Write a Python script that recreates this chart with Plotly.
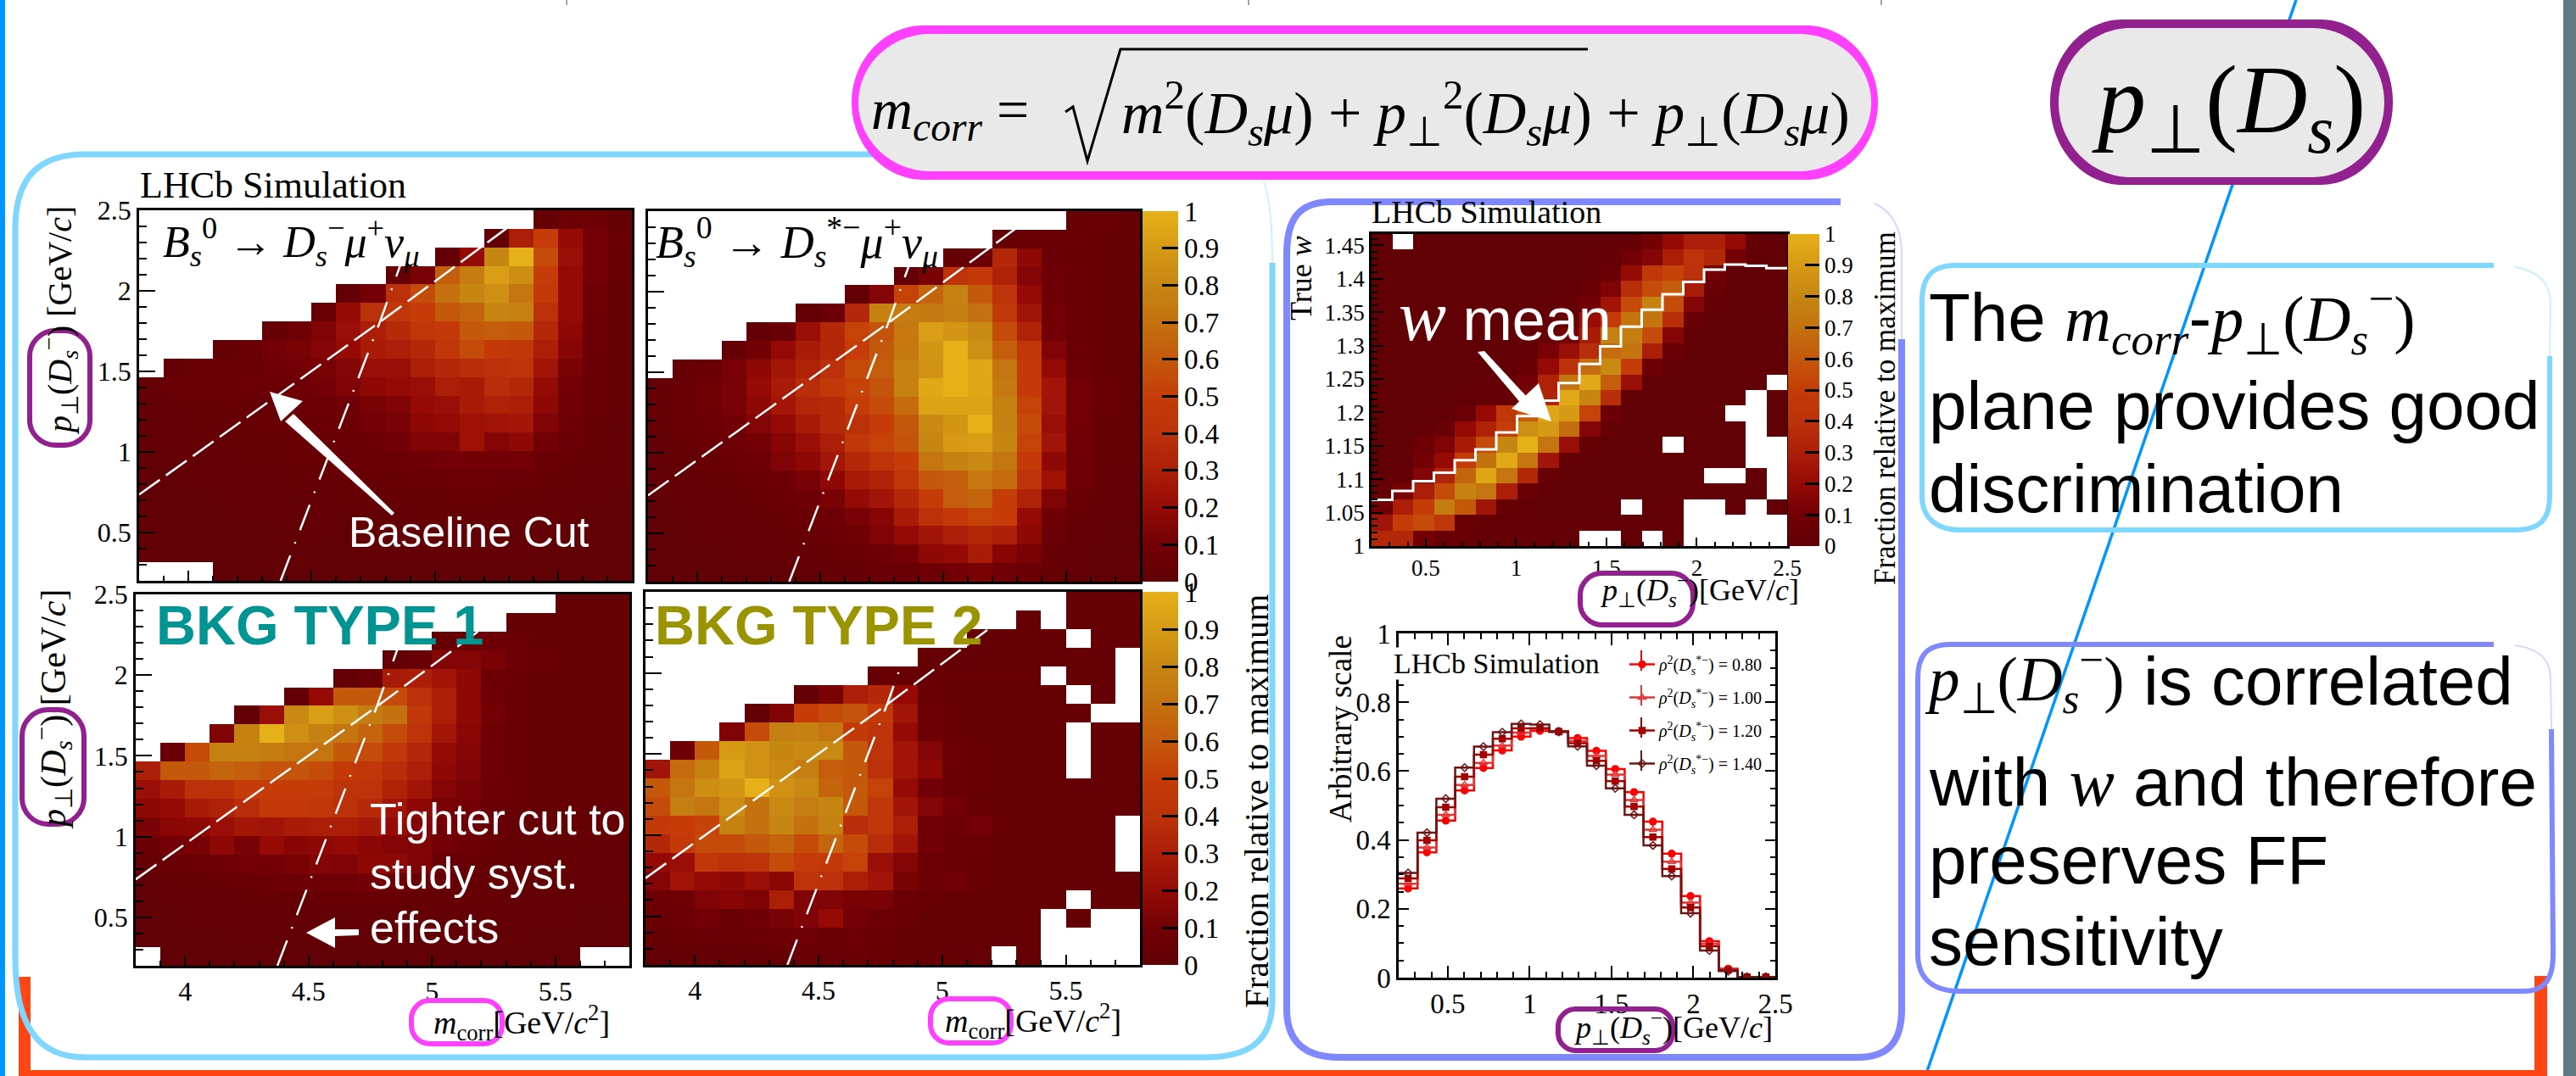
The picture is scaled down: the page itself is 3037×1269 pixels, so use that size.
import plotly.graph_objects as go

W, H = 3037, 1269
_ = None
SERIF = "Liberation Serif"
SANS = "Liberation Sans"

# ---------- data ----------
m_edges_start, m_bin = 3.8, 0.1
pt_edges_start, pt_bin = 0.2, 0.115
p_edges_start, p_bin = 0.2, 0.115
w_start, w_bin = 1.0, 0.02335

panel1 = [
 [_]*16+[.03,.08,.08,.03],
 [_]*14+[.03,.3,.5,.2,.1,.05],
 [_]*12+[.02,.2,.8,1.0,.55,.22,.1,.04],
 [_]*10+[.03,.12,.62,.75,.92,.84,.5,.2,.1,.04],
 [_]*8+[.02,.1,.4,.55,.7,.8,.85,.72,.48,.2,.08,.03],
 [_]*7+[.05,.2,.4,.45,.5,.6,.65,.8,.78,.4,.2,.08,.03],
 [_]*5+[.03,.08,.14,.22,.3,.36,.45,.48,.6,.62,.6,.35,.18,.06,.03],
 [_]*3+[.03,.05,.1,.12,.15,.2,.28,.3,.35,.45,.55,.48,.45,.3,.16,.06,.03],
 [_]+[.03,.05,.05,.05,.08,.1,.12,.15,.22,.22,.3,.35,.38,.4,.42,.25,.12,.05,.03],
 [.03,.05,.05,.05,.06,.06,.08,.1,.14,.18,.2,.22,.3,.28,.38,.35,.2,.1,.05,.03],
 [.02,.03,.03,.04,.04,.05,.06,.07,.09,.12,.14,.2,.22,.28,.32,.3,.18,.1,.05,.03],
 [.02,.02,.03,.03,.04,.04,.05,.06,.07,.1,.12,.18,.2,.24,.25,.26,.14,.08,.04,.02],
 [.02,.02,.02,.03,.03,.03,.04,.05,.05,.07,.09,.14,.14,.24,.15,.18,.1,.06,.03,.02],
 [.01,.02,.02,.02,.03,.03,.04,.04,.05,.05,.06,.08,.1,.1,.1,.1,.06,.04,.03,.02],
 [.01,.01,.02,.02,.02,.02,.03,.03,.03,.04,.04,.05,.06,.06,.06,.05,.04,.03,.02,.02],
 [.01,.01,.01,.02,.02,.02,.02,.02,.03,.03,.03,.03,.04,.04,.04,.03,.03,.02,.02,.01],
 [.01,.01,.01,.01,.02,.02,.02,.02,.02,.02,.02,.03,.03,.03,.03,.02,.02,.02,.01,.01],
 [.01,.01,.01,.01,.01,.01,.02,.02,.02,.02,.02,.02,.02,.02,.02,.02,.02,.01,.01,.01],
 [.01,.01,.01,.01,.01,.01,.01,.01,.01,.02,.02,.02,.02,.02,.02,.02,.01,.01,.01,.01],
 [_,_,_,.01,.01,.01,.01,.01,.01,.01,.01,.01,.01,.01,.01,.01,.01,.01,.01,.01],
]
panel2 = [
 [_]*17+[.04,.05,.03],
 [_]*14+[.03,.05,.05,.05,.04,.03],
 [_]*12+[.03,.06,.35,.18,.05,.04,.04,.03],
 [_]*10+[.02,.12,.42,.48,.32,.15,.08,.05,.04,.03],
 [_]*8+[.02,.15,.52,.65,.78,.6,.42,.2,.08,.05,.04,.03],
 [_]*6+[.02,.06,.35,.78,.75,.74,.76,.7,.47,.25,.1,.05,.04,.03],
 [_]*4+[.02,.05,.22,.35,.52,.58,.74,.92,.88,.82,.55,.32,.1,.05,.04,.03],
 [_]*3+[.03,.1,.2,.28,.35,.5,.6,.74,.88,1.0,.85,.62,.45,.14,.06,.04,.03],
 [_]+[.03,.05,.12,.18,.26,.32,.4,.55,.62,.78,.86,1.0,.96,.72,.48,.2,.07,.04,.03],
 [.03,.05,.08,.12,.2,.28,.38,.47,.52,.58,.78,.96,1.0,.96,.74,.48,.25,.1,.05,.03],
 [.03,.05,.08,.12,.18,.26,.34,.36,.5,.55,.68,.94,.94,.94,.78,.52,.25,.1,.05,.03],
 [.03,.05,.06,.1,.15,.2,.28,.36,.4,.5,.6,.82,.88,1.0,.78,.55,.22,.1,.04,.03],
 [.02,.04,.06,.08,.1,.16,.22,.3,.45,.52,.58,.8,.9,.92,.8,.52,.25,.09,.04,.03],
 [.02,.03,.04,.06,.08,.14,.18,.26,.35,.42,.5,.72,.78,.82,.72,.48,.18,.08,.03,.03],
 [.02,.02,.03,.04,.05,.08,.12,.18,.28,.32,.44,.6,.62,.74,.68,.42,.24,.08,.03,.02],
 [.02,.02,.02,.03,.04,.06,.08,.12,.2,.25,.35,.5,.62,.65,.5,.32,.14,.05,.03,.02],
 [.01,.02,.02,.02,.03,.04,.06,.08,.12,.16,.28,.4,.48,.52,.5,.2,.08,.03,.02,.02],
 [.01,.01,.02,.02,.02,.03,.04,.06,.08,.14,.2,.25,.3,.35,.3,.18,.06,.02,.02,.01],
 [.01,.01,.01,.02,.02,.02,.03,.04,.05,.07,.1,.18,.2,.28,.16,.12,.04,.02,.01,.01],
 [.01,.01,.01,.01,.01,.02,.02,.03,.03,.05,.05,.08,.1,.12,.08,.06,.03,.02,.01,.01],
]
panel3 = [
 [_]*17+[.03,.03,.03],
 [_]*15+[.03,.03,.03,.03,.03],
 [_]*12+[.04,.05,.08,.06,.03,.03,.03,.03],
 [_]*10+[.02,.05,.15,.15,.12,.07,.05,.03,.03,.03],
 [_]*8+[.02,.06,.28,.3,.25,.18,.07,.05,.03,.03,.03,.03],
 [_]*6+[.02,.2,.6,.6,.55,.4,.3,.18,.08,.05,.03,.03,.03,.03],
 [_]*4+[.02,.22,.82,.92,.85,.75,.7,.45,.3,.18,.1,.05,.03,.03,.03,.03],
 [_]*3+[.14,.78,1.0,.85,.78,.72,.65,.55,.42,.26,.17,.08,.05,.03,.03,.03,.03],
 [_]+[.06,.55,.78,.78,.75,.72,.72,.6,.55,.45,.35,.2,.15,.08,.05,.03,.03,.03,.03],
 [.3,.6,.6,.65,.62,.58,.58,.55,.48,.45,.38,.3,.18,.14,.08,.05,.03,.03,.03,.03],
 [.22,.28,.4,.4,.5,.5,.5,.5,.42,.42,.32,.25,.15,.12,.07,.05,.03,.03,.03,.03],
 [.18,.2,.28,.32,.38,.48,.48,.45,.4,.36,.25,.18,.12,.1,.05,.04,.03,.03,.03,.03],
 [.12,.17,.18,.22,.26,.25,.28,.3,.3,.27,.2,.15,.1,.08,.05,.03,.03,.03,.03,.03],
 [.06,.1,.12,.18,.12,.2,.16,.18,.2,.17,.15,.14,.1,.07,.04,.03,.03,.03,.03,.02],
 [.03,.05,.06,.08,.1,.1,.12,.15,.14,.18,.18,.14,.05,.04,.03,.03,.03,.03,.02,.02],
 [.02,.03,.03,.04,.05,.06,.07,.08,.08,.1,.08,.05,.04,.03,.03,.03,.02,.02,.02,.02],
 [.02,.02,.02,.02,.03,.03,.03,.04,.04,.04,.04,.03,.03,.03,.03,.02,.02,.02,.02,.02],
 [.01,.01,.02,.02,.02,.02,.02,.02,.02,.02,.02,.02,.02,.02,.02,.02,.02,.02,.01,.01],
 [.01,.01,.01,.01,.02,.02,.02,.02,.02,.02,.02,.02,.02,.02,.02,.02,.01,.01,.01,.01],
 [_,.01,.01,.01,.01,.01,.01,.01,.01,.01,.01,.01,.01,.01,.01,.01,.01,.01,_,_],
]
panel4 = [
 [_]*17+[.03,.03,.03],
 [_]*15+[.03,_,.03,.03,.03],
 [_]*13+[.03,.03,.03,.03,_,.03,.03],
 [_]*11+[.03]*8+[_],
 [_]*9+[.04]*7+[_,.03,.03,_],
 [_]*6+[.02,.12,.3,.35,.2,.05,.03,.03,.03,.03,.03]+[_,.03,_],
 [_]*4+[.02,.14,.5,.55,.58,.48,.25,.07,.04,.03,.03,.03,.03,.03]+[_,_],
 [_]*3+[.14,.55,.76,.78,.72,.48,.42,.2,.08,.04,.03,.03,.03,.03]+[_,.03,.03],
 [_]+[.08,.6,.9,.86,.8,.82,.82,.6,.42,.25,.15,.06,.04,.03,.03,.03]+[_,.03,.03],
 [.25,.68,.78,.94,.86,.82,.76,.62,.6,.4,.25,.18,.06,.04,.03,.03,.03,_,.03,.03],
 [.6,.72,.84,.88,1,.86,.82,.65,.6,.52,.2,.1,.05,.04,.03,.03,.03,.03,.03,.03],
 [.55,.76,.72,.84,.7,.82,.76,.8,.6,.45,.25,.15,.1,.04,.03,.03,.03,.03,.03,.03],
 [.48,.5,.52,.78,.7,.8,.7,.78,.38,.45,.3,.1,.07,.1,.04,.03,.03,.03,.03,_],
 [.35,.48,.55,.55,.6,.65,.55,.65,.55,.38,.25,.1,.05,.05,.03,.03,.03,.03,.03,_],
 [.2,.22,.45,.4,.42,.55,.5,.48,.52,.22,.15,.07,.05,.04,.03,.03,.03,.03,.03,_],
 [.15,.25,.2,.18,.22,.17,.42,.4,.3,.25,.12,.07,.09,.04,.03,.03,.03,.03,.03,.03],
 [.07,.08,.14,.16,.13,.3,.14,.14,.12,.12,.06,.04,.03,.03,.03,.03,.03,_,.03,.03],
 [.05,.07,.1,.05,.08,.12,.14,.2,.1,.07,.05,.03,.03,.03,.03,.03,_,.03,_,_],
 [.03,.04,.05,.05,.06,.07,.08,.05,.08,.05,.03,.03,.03,.03,.03,.03,_,_,_,_],
 [.02,.03,.03,.03,.03,.04,.05,.05,.06,.04,.04,.03,.03,.03,_,.03,_,_,_,_],
]
panel5 = [
 [.01,_,.01,.01,.01,.01,.01,.01,.01,.01,.01,.01,.03,.1,.2,.3,.3,.2,.03,.02],
 [.01,.01,.01,.01,.01,.01,.01,.01,.01,.01,.01,.03,.1,.15,.3,.42,.35,.1,.02,.01],
 [.01,.01,.01,.01,.01,.01,.01,.01,.01,.01,.02,.05,.2,.45,.52,.4,.1,.02,.01,.01],
 [.01,.01,.01,.01,.01,.01,.01,.01,.01,.02,.05,.14,.38,.55,.62,.28,.06,.01,.01,.01],
 [.01,.01,.01,.01,.01,.01,.01,.01,.02,.03,.1,.25,.55,.78,.55,.15,.03,.01,.01,.01],
 [.01,.01,.01,.01,.01,.01,.01,.01,.02,.05,.22,.5,.72,.72,.38,.05,.02,.01,.01,.01],
 [.01,.01,.01,.01,.01,.01,.01,.02,.04,.1,.28,.78,.76,.55,.15,.02,.01,.01,.01,.01],
 [.01,.01,.01,.01,.01,.01,.01,.02,.12,.22,.38,.68,.72,.3,.05,.01,.01,.01,.01,.01],
 [.01,.01,.01,.01,.01,.01,.02,.04,.2,.4,.68,.82,.5,.08,.02,.01,.01,.01,.01,.01],
 [.01,.01,.01,.01,.01,.02,.03,.1,.32,.72,.97,.62,.22,.02,.01,.01,.01,.01,.01,_],
 [.01,.01,.01,.01,.02,.03,.04,.14,.33,.97,.8,.38,.02,.01,.01,.01,.01,.01,_,.01],
 [.01,.01,.01,.02,.06,.2,.45,.62,.95,.9,.52,.07,.01,.01,.01,.01,.01,_,_,.01],
 [.01,.01,.02,.05,.2,.32,.5,.85,.9,.68,.15,.03,.01,.01,.01,.01,.01,.01,_,.01],
 [.01,.01,.08,.14,.28,.55,.8,1.0,.72,.22,.03,.01,.01,.01,_,.01,.01,.01,_,_],
 [.01,.02,.1,.2,.5,.7,.97,.72,.25,.03,.01,.01,.01,.01,.01,.01,.01,.01,_,_],
 [.01,.03,.15,.33,.65,.95,.72,.35,.04,.01,.01,.01,.01,.01,.01,.01,_,_,.02,_],
 [.03,.12,.3,.55,.78,.72,.3,.05,.02,.01,.01,.01,.01,.01,.01,.01,.01,.01,.01,_],
 [.1,.3,.5,.75,.6,.25,.03,.02,.01,.01,.01,.01,_,.01,.01,_,_,.02,_,.02],
 [.25,.5,.55,.45,.05,.03,.02,.02,.02,.02,.02,.02,.02,.02,.02,_,_,_,_,_],
 [.35,.35,.1,.05,.04,.03,.03,.03,.02,.02,_,_,.02,_,.02,_,_,_,_,_],
]
w_mean = [1.0693,1.0824,1.0972,1.1099,1.1285,1.1446,1.1699,1.1944,1.2177,1.2439,
          1.2726,1.2988,1.3284,1.3538,1.377,1.3952,1.4138,1.4214,1.4193,1.4159]

rho_080 = [.259,.364,.456,.544,.609,.66,.70,.717,.716,.696,.659,.606,.539,.453,.36,.237,.106,.026,.002,.002]
rho_100 = [.273,.378,.473,.56,.624,.674,.712,.721,.714,.687,.644,.59,.516,.43,.337,.218,.098,.024,.002,.002]
rho_120 = [.288,.399,.495,.584,.648,.694,.724,.725,.714,.681,.63,.571,.497,.408,.316,.204,.091,.022,.002,.002]
rho_140 = [.304,.421,.52,.61,.671,.713,.737,.735,.714,.672,.616,.55,.473,.384,.295,.187,.079,.019,.002,.002]

cut_dash_m = [3.8, 4.777, 5.39]
cut_dash_pt = [0.735, 1.806, 2.5]
cut_dot_m = [4.374, 4.777, 4.94]
cut_dot_pt = [0.2, 1.806, 2.5]

pt_ticks = [0.5, 1, 1.5, 2, 2.5]
pt_labels = ["0.5", "1", "1.5", "2", "2.5"]
m_ticks = [4, 4.5, 5, 5.5]
m_labels = ["4", "4.5", "5", "5.5"]
w_ticks = [1, 1.05, 1.1, 1.15, 1.2, 1.25, 1.3, 1.35, 1.4, 1.45]
w_labels = ["1", "1.05", "1.1", "1.15", "1.2", "1.25", "1.3", "1.35", "1.4", "1.45"]
arb_ticks = [0, 0.2, 0.4, 0.6, 0.8, 1]
arb_labels = ["0", "0.2", "0.4", "0.6", "0.8", "1"]
cb_ticks = [0, .1, .2, .3, .4, .5, .6, .7, .8, .9, 1]
cb_labels = ["0", "0.1", "0.2", "0.3", "0.4", "0.5", "0.6", "0.7", "0.8", "0.9", "1"]

colorscale = [[0, "#5f0005"], [.1, "#720005"], [.2, "#950a05"], [.3, "#ab1f08"], [.4, "#bb320a"],
              [.5, "#c53c08"], [.6, "#c4590c"], [.7, "#c4710f"], [.8, "#c68612"], [.9, "#d69a15"], [1, "#e6b018"]]

LIGHT = "#7fd7ff"; VIOLET = "#8088ff"; PURPLE = "#93208f"; MAGENTA = "#ff40ff"
ORANGE = "#ff4514"; BLUE = "#0095ff"; PILL = "#e9e9e9"

# ---------- helpers ----------
PX = lambda x: x / W
PY = lambda y: 1 - y / H

def rpath(x0, y0, x1, y1, rx, ry):
    k = 0.45
    pts = [("M", x0 + rx, y0), ("L", x1 - rx, y0),
           ("C", x1 - rx * k, y0, x1, y0 + ry * k, x1, y0 + ry), ("L", x1, y1 - ry),
           ("C", x1, y1 - ry * k, x1 - rx * k, y1, x1 - rx, y1), ("L", x0 + rx, y1),
           ("C", x0 + rx * k, y1, x0, y1 - ry * k, x0, y1 - ry), ("L", x0, y0 + ry),
           ("C", x0, y0 + ry * k, x0 + rx * k, y0, x0 + rx, y0)]
    return path_str(pts) + " Z"

def path_str(pts):
    out = []
    for p in pts:
        c = p[0]; v = p[1:]
        coords = []
        for i in range(0, len(v), 2):
            coords.append(f"{PX(v[i]):.5f},{PY(v[i+1]):.5f}")
        out.append(c + " ".join(coords))
    return " ".join(out)

shapes = []
def shape_path(d, color, width=0, fill=None, layer="above"):
    shapes.append(dict(type="path", xref="paper", yref="paper", path=d, layer=layer,
                       line=dict(color=color, width=width), fillcolor=fill or "rgba(0,0,0,0)"))

def poly(points, fill="white"):
    d = "M" + " L".join(f"{PX(x):.5f},{PY(y):.5f}" for x, y in points) + " Z"
    shape_path(d, fill, 0, fill)

def seg(x0, y0, x1, y1, color, width, layer="above"):
    shape_path(f"M{PX(x0):.5f},{PY(y0):.5f} L{PX(x1):.5f},{PY(y1):.5f}", color, width, None, layer)

anns = []
def T(x, y, text, size, font=SERIF, color="black", xa="left", angle=0, bg=None):
    a = dict(xref="paper", yref="paper", x=PX(x), y=PY(y), text=text, showarrow=False,
             xanchor=xa, yanchor="middle", align="left", textangle=angle,
             font=dict(family=font, size=size, color=color), borderpad=0)
    if bg:
        a["bgcolor"] = bg
    anns.append(a)

SER = lambda s, px=80: f"<span style=\"font-family:'{SERIF}';font-size:{px}px\">{s}</span>"
PT = "<i>p</i><sub>⊥</sub>(<i>D</i><sub><i>s</i></sub><sup>−</sup>)"
MC = "<i>m</i><sub>corr</sub>"

# ---------- figure ----------
fig = go.Figure()

def add_axes(n, x0, x1, y0, y1, xr, yr, xt, xl, yt, yl, xminor, yminor, show_x, show_y,
             mirror=True, fs=32, xmaj=12, ymaj=19):
    f = dict(family=SERIF, size=fs, color="black")
    xa = dict(domain=[PX(x0), PX(x1)], range=xr, anchor=f"y{n}", tickmode="array", tickvals=xt, ticktext=xl,
              showticklabels=show_x, ticks="inside", ticklen=xmaj, tickwidth=2, tickcolor="black",
              minor=dict(ticks="inside", ticklen=xmaj // 2, dtick=xminor, tick0=0, tickcolor="black", tickwidth=2, showgrid=False),
              showgrid=False, zeroline=False, showline=True, linecolor="black", linewidth=2.5, mirror=mirror,
              tickfont=f)
    ya = dict(domain=[PY(y1), PY(y0)], range=yr, anchor=f"x{n}", tickmode="array", tickvals=yt, ticktext=yl,
              showticklabels=show_y, ticks="inside", ticklen=ymaj, tickwidth=2, tickcolor="black",
              minor=dict(ticks="inside", ticklen=ymaj // 2, dtick=yminor, tick0=0, tickcolor="black", tickwidth=2, showgrid=False),
              showgrid=False, zeroline=False, showline=True, linecolor="black", linewidth=2.5, mirror=mirror,
              tickfont=f)
    fig.update_layout({f"xaxis{n}": xa, f"yaxis{n}": ya})

def heat(n, rows, x0, dx, y0, dy, cb=None):
    kw = dict(showscale=False)
    if cb:
        kw = dict(showscale=True, colorbar=dict(
            x=PX(cb[0]), xanchor="left", xpad=0, ypad=0, thickness=cb[1], thicknessmode="pixels",
            y=PY(cb[3]), yanchor="bottom", len=(cb[3] - cb[2]) / H, lenmode="fraction",
            tickmode="array", tickvals=cb_ticks, ticktext=cb_labels, ticks="inside", ticklen=cb[1] * 0.45,
            tickwidth=2.5, tickcolor="black", outlinewidth=0,
            tickfont=dict(family=SERIF, size=cb[4], color="black")))
    fig.add_trace(go.Heatmap(z=rows[::-1], x0=x0 + dx / 2, dx=dx, y0=y0 + dy / 2, dy=dy,
                             zmin=0, zmax=1, colorscale=colorscale, xaxis=f"x{n}", yaxis=f"y{n}",
                             hoverinfo="skip", **kw))

def cuts(n):
    fig.add_trace(go.Scatter(x=cut_dash_m, y=cut_dash_pt, mode="lines", xaxis=f"x{n}", yaxis=f"y{n}",
                             line=dict(color="white", width=2.5, dash="30px,9px"), showlegend=False, hoverinfo="skip"))
    fig.add_trace(go.Scatter(x=cut_dot_m, y=cut_dot_pt, mode="lines", xaxis=f"x{n}", yaxis=f"y{n}",
                             line=dict(color="white", width=2.5, dash="32px,15px,2px,15px"), showlegend=False, hoverinfo="skip"))

xr = [3.8, 5.8]; yr = [0.2, 2.5]
panels = [(1, panel1, 164, 745, 248, 685, False, True, None),
          (2, panel2, 764, 1344, 249, 686, False, False, (1347, 42, 249, 686, 33)),
          (3, panel3, 160, 742, 701, 1139, True, True, None),
          (4, panel4, 761, 1344, 698, 1138, True, False, (1347, 42, 698, 1138, 33))]
for n, rows, x0, x1, y0, y1, sx, sy, cb in panels:
    add_axes(n, x0, x1, y0, y1, xr, yr, m_ticks, m_labels, pt_ticks, pt_labels, 0.1, 0.1, sx, sy)
    heat(n, rows, m_edges_start, m_bin, pt_edges_start, pt_bin, cb)
    cuts(n)

# w vs pT
add_axes(5, 1617, 2107, 276, 644, [0.2, 2.5], [1, 1.467], pt_ticks, pt_labels, w_ticks, w_labels, 0.1, 0.01,
         True, True, fs=27, xmaj=10, ymaj=14)
heat(5, panel5, p_edges_start, p_bin, w_start, w_bin, (2108, 37, 276, 644, 27))
edges = [p_edges_start + p_bin * i for i in range(21)]
centres = [p_edges_start + p_bin * (i + .5) for i in range(20)]
fig.add_trace(go.Scatter(x=edges, y=w_mean + [w_mean[-1]], mode="lines", line=dict(color="white", width=3, shape="hv"),
                         xaxis="x5", yaxis="y5", showlegend=False, hoverinfo="skip"))

# shape comparison
add_axes(6, 1649, 2093, 747, 1153, [0.2, 2.5], [0, 1], pt_ticks, pt_labels, arb_ticks, arb_labels, 0.1, 0.05,
         True, True, mirror="ticks", fs=33, xmaj=14, ymaj=12)
series = [("0.80", rho_080, "#ff0000", "circle", 8), ("1.00", rho_100, "#e53535", "triangle-up-open", 8),
          ("1.20", rho_120, "#a60000", "square", 7), ("1.40", rho_140, "#6e1515", "diamond-open", 7)]
for label, vals, col, sym, ms in series:
    fig.add_trace(go.Scatter(x=edges, y=vals + [vals[-1]], mode="lines", line=dict(color=col, width=2.5, shape="hv"),
                             xaxis="x6", yaxis="y6", showlegend=False, hoverinfo="skip"))
for label, vals, col, sym, ms in series:
    xs, ys = [], []
    for c, v in zip(centres, vals):
        xs += [c, None]; ys += [v, None]
    fig.add_trace(go.Scatter(x=xs, y=ys, mode="lines+markers", connectgaps=False,
                             line=dict(color=col, width=2.5),
                             marker=dict(symbol=sym, size=ms, color=col, line=dict(color=col, width=1.5)),
                             name=f"<i>ρ</i><sup>2</sup>(<i>D</i><sub><i>s</i></sub><sup>*−</sup>) = {label}",
                             legendgroup=label, xaxis="x6", yaxis="y6", hoverinfo="skip"))

# ---------- slide furniture ----------
seg(2707, 0, 2270, 1269, BLUE, 3.5, layer="below")
for x in (668, 1472, 2218):
    seg(x, 0, x, 6, "#444444", 1)
poly([(0, 0), (6, 0), (6, 1269), (0, 1269)], BLUE)
poly([(3022, 0), (3037, 0), (3037, 1269), (3022, 1269)], "#607a80")
# orange bracket
poly([(22, 1152), (36, 1152), (36, 1262), (2988, 1262), (2988, 1151), (3003, 1151), (3003, 1269), (22, 1269)], ORANGE)

# light-blue panel: open path leaving the top-right corner thin
shape_path(path_str([("M", 1500, 310), ("L", 1500, 1180),
                     ("C", 1500, 1230, 1470, 1247, 1420, 1247), ("L", 100, 1247),
                     ("C", 45, 1247, 18, 1210, 18, 1130), ("L", 18, 270),
                     ("C", 18, 210, 45, 182, 100, 182), ("L", 1100, 182)]), LIGHT, 7)
shape_path(path_str([("M", 1490, 215), ("C", 1498, 235, 1500, 270, 1500, 310)]), "#cdf0ff", 2)

# violet plot panel
shape_path(path_str([("M", 2170, 238), ("L", 1570, 238), ("C", 1530, 238, 1517, 260, 1517, 300), ("L", 1517, 1190),
                     ("C", 1517, 1230, 1540, 1247, 1580, 1247), ("L", 2190, 1247),
                     ("C", 2225, 1247, 2242, 1230, 2242, 1190), ("L", 2242, 400)]), VIOLET, 8)
shape_path(path_str([("M", 2210, 240), ("C", 2232, 250, 2242, 270, 2242, 300), ("L", 2242, 400)]), "#d5d8ff", 2)

# formula pills: outer colour with an inset grey face, thick on top and bottom, thin at the sides
shape_path(rpath(1004, 30, 2214, 212, 85, 91), MAGENTA, 0, MAGENTA)
shape_path(rpath(1012, 40, 2206, 202, 85, 81), PILL, 0, PILL)
shape_path(rpath(2417, 23, 2821, 218, 85, 97), PURPLE, 0, PURPLE)
shape_path(rpath(2427, 33, 2811, 209, 85, 88), PILL, 0, PILL)

# text boxes
shape_path(path_str([("M", 2940, 313), ("L", 2305, 313), ("C", 2275, 313, 2266, 330, 2266, 355), ("L", 2266, 585),
                     ("C", 2266, 612, 2285, 625, 2310, 625), ("L", 2965, 625),
                     ("C", 2995, 625, 3006, 612, 3006, 585), ("L", 3006, 420)]), LIGHT, 6)
shape_path(path_str([("M", 2965, 315), ("C", 2995, 320, 3007, 335, 3007, 360), ("L", 3006, 420)]), "#cdf0ff", 2)
shape_path(path_str([("M", 2940, 760), ("L", 2300, 760), ("C", 2270, 760, 2261, 775, 2261, 800), ("L", 2261, 1125),
                     ("C", 2261, 1155, 2280, 1169, 2310, 1169), ("L", 2975, 1169),
                     ("C", 3000, 1169, 3010, 1155, 3010, 1125), ("L", 3008, 860)]), VIOLET, 6)
shape_path(path_str([("M", 2965, 761), ("C", 2995, 765, 3007, 780, 3007, 800), ("L", 3008, 860)]), "#d5d8ff", 2)

# label rings
for x0, y0, x1, y1, c in [(35, 390, 106, 525, PURPLE), (26, 837, 99, 972, PURPLE),
                          (485, 1180, 592, 1231, MAGENTA), (1097, 1178, 1192, 1230, MAGENTA),
                          (1863, 676, 1996, 737, PURPLE), (1837, 1190, 1972, 1239, PURPLE)]:
    r = min(x1 - x0, y1 - y0) * 0.42
    shape_path(rpath(x0, y0, x1, y1, r, r), c, 6)

# radical sign
shape_path(path_str([("M", 1256, 132), ("L", 1265, 126), ("L", 1282, 190), ("L", 1321, 58), ("L", 1872, 58)]), "black", 3)

# legend error-bar stubs
for yc, col in [(779, "#ff0000"), (820, "#e53535"), (858, "#a60000"), (897, "#6e1515")]:
    seg(1935, yc - 12, 1935, yc + 12, col, 2)

# white arrows
poly([(318, 462), (357, 473), (331, 497)])
poly([(346, 488), (465, 605), (462, 608), (336, 497)])
poly([(361, 1100), (395, 1082), (395, 1118)])
poly([(395, 1096), (423, 1096), (423, 1103), (395, 1104)])
poly([(1829, 497), (1814, 452), (1782, 482)])
poly([(1742, 415), (1750, 414), (1802, 470), (1795, 478)])

# ---------- text ----------
T(1026, 133, "<i>m<sub>corr</sub></i> =", 68)
T(1321, 133, "<i>m</i><sup>2</sup>(<i>D<sub>s</sub>μ</i>) + <i>p</i><sub>⊥</sub><sup>2</sup>(<i>D<sub>s</sub>μ</i>) + <i>p</i><sub>⊥</sub>(<i>D<sub>s</sub>μ</i>)", 70)
T(2627, 125, "<i>p</i><sub>⊥</sub>(<i>D<sub>s</sub></i>)", 114, xa="center")

T(164, 218, "LHCb Simulation", 44)
T(191, 285, "<i>B<sub>s</sub></i><sup>0</sup> → <i>D<sub>s</sub></i><sup>−</sup><i>μ</i><sup>+</sup><i>ν<sub>μ</sub></i>", 52)
T(772, 285, "<i>B<sub>s</sub></i><sup>0</sup> → <i>D<sub>s</sub></i><sup>*−</sup><i>μ</i><sup>+</sup><i>ν<sub>μ</sub></i>", 54)
T(183, 738, "<b>BKG TYPE 1</b>", 65, SANS, "#009492")
T(771, 738, "<b>BKG TYPE 2</b>", 65, SANS, "#9a9400")
T(410, 628, "Baseline Cut", 50, SANS, "white")
T(435, 966, "Tighter cut to", 52, SANS, "white")
T(435, 1030, "study syst.", 52, SANS, "white")
T(435, 1094, "effects", 52, SANS, "white")
T(1648, 372, "<i><span style=\"font-family:'Liberation Serif';font-size:84px\">w</span></i> mean", 70, SANS, "white")

T(70, 378, PT + " [GeV/<i>c</i>]", 40, angle=-90, xa="center")
T(62, 837, PT + " [GeV/<i>c</i>]", 42, angle=-90, xa="center")
T(510, 1206, MC + "[GeV/<i>c</i><sup>2</sup>]", 38)
T(1113, 1204, MC + "[GeV/<i>c</i><sup>2</sup>]", 38)
T(1481, 945, "Fraction relative to maximum", 41, angle=-90, xa="center")

T(1616, 250, "LHCb Simulation", 38)
T(1534, 328, "True <i>w</i>", 36, angle=-90, xa="center")
T(2222, 482, "Fraction relative to maximum", 35, angle=-90, xa="center")
T(1885, 696, PT + "[GeV/<i>c</i>]", 36)

T(1642, 782, "LHCb Simulation", 34, bg="white")
T(1580, 860, "Arbitrary scale", 37, angle=-90, xa="center")
T(1854, 1212, PT + "[GeV/<i>c</i>]", 36)

# right-hand statements
T(2273, 376, "The " + SER("<i>m<sub>corr</sub></i>", 76) + "-" + SER("<i>p</i><sub>⊥</sub>(<i>D<sub>s</sub></i><sup>−</sup>)", 76), 80, SANS)
T(2273, 478, "plane provides good", 80, SANS)
T(2273, 576, "discrimination", 80, SANS)
T(2268, 800, SER("<i>p</i><sub>⊥</sub>(<i>D<sub>s</sub></i><sup>−</sup>)", 73), 73, SANS)
T(2526, 803, "is correlated", 80, SANS)
T(2273, 922, "with " + SER("<i>w</i>") + " and therefore", 80, SANS)
T(2273, 1014, "preserves FF", 80, SANS)
T(2273, 1110, "sensitivity", 80, SANS)

fig.update_layout(
    width=W, height=H, margin=dict(l=0, r=0, t=0, b=0, pad=0, autoexpand=False),
    paper_bgcolor="white", plot_bgcolor="white",
    shapes=shapes, annotations=anns,
    showlegend=True,
    legend=dict(x=PX(1916), y=PY(764), xanchor="left", yanchor="top", bgcolor="rgba(0,0,0,0)",
                font=dict(family=SERIF, size=20, color="black"), tracegroupgap=10,
                itemwidth=30, borderwidth=0),
)
fig.write_html("out.html", config={"displayModeBar": False},
               post_script="document.body.style.margin='0';document.documentElement.style.overflow='hidden';")
